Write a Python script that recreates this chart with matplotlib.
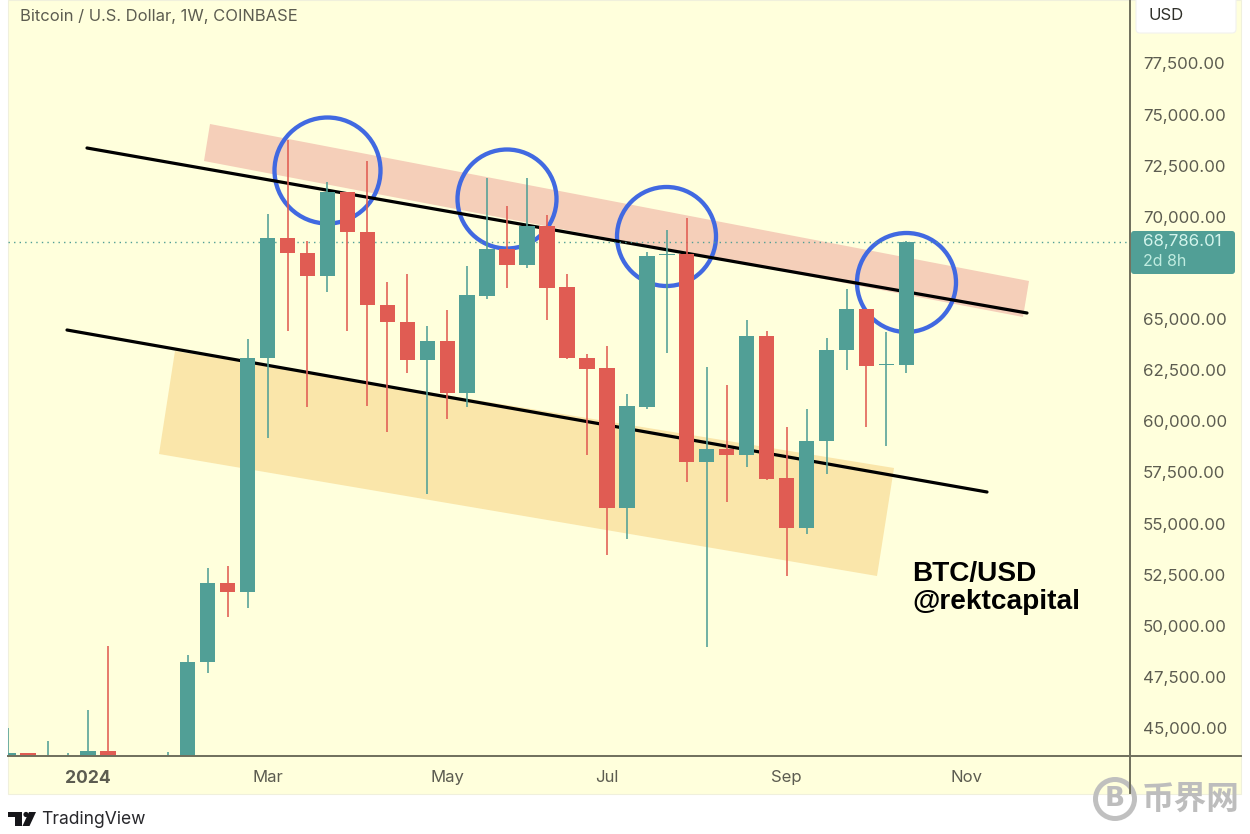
import matplotlib
matplotlib.use("Agg")
import matplotlib.pyplot as plt
from matplotlib.patches import Polygon, Circle, FancyBboxPatch, Rectangle

# ---------- data ----------
weeks = list(range(-4, 42))
opens = [43000, 43760, 42000, 42500, 42000, 43875, 41000, 41500, 42000, 42000,
         48227, 52105, 51636, 63075, 68944, 68240, 67120, 71200, 69250, 65680,
         64850, 63010, 63925, 61370, 66140, 68425, 67625, 69560, 66550, 63100,
         62590, 55770, 60710, 68130, 68180, 58020, 58630, 58335, 64170, 57210,
         54795, 59035, 63470, 65500, 62770, 62750]
closes = [43760, 43000, 43000, 43200, 43875, 42000, 42000, 42500, 43000, 48242,
          52105, 51636, 63075, 68944, 68240, 67120, 71200, 69250, 65680, 64850,
          63010, 63925, 61370, 66170, 68425, 67625, 69550, 66540, 63090, 62570,
          55770, 60750, 68080, 68180, 58020, 58630, 58335, 64170, 57190, 54795,
          59035, 63470, 65500, 62720, 62810, 68786]
highs = [45000, 43800, 44364, 43792, 45880, 49024, 41500, 42800, 43826, 48570,
         52824, 52920, 64022, 70120, 73750, 68830, 71710, 71200, 72730, 66820,
         67200, 64660, 65440, 67605, 71915, 70530, 71880, 70090, 67200, 63270,
         63700, 61330, 68290, 69350, 69930, 62670, 61770, 64950, 64425, 59730,
         60580, 64060, 66450, 65500, 64350, 68815]
lows = [42800, 42900, 41800, 42000, 41500, 41500, 40500, 41000, 41500, 41500,
        47690, 50444, 50868, 59166, 64425, 60710, 66335, 64425, 60740, 59490,
        62345, 56440, 60095, 60680, 65980, 66540, 67510, 64950, 63040, 58330,
        53460, 54230, 60610, 63350, 57040, 48975, 56070, 57750, 57130, 52450,
        54510, 57420, 62500, 59730, 58790, 62370]
price_ticks = [45000, 47500, 50000, 52500, 55000, 57500, 60000, 62500,
               65000, 67500, 70000, 72500, 75000, 77500]
# The 67,500 label is hidden in the reference's layout
price_labels = ["45,000.00", "47,500.00", "50,000.00", "52,500.00", "55,000.00",
                "57,500.00", "60,000.00", "62,500.00", "65,000.00", "", "70,000.00",
                "72,500.00", "75,000.00", "77,500.00"]
month_ticks = [0, 9, 18, 26, 35, 44]
month_labels = ["2024", "Mar", "May", "Jul", "Sep", "Nov"]
last_price = 68786.01

TEAL, RED = "#519f96", "#e05c53"
BG, AXC, TXT = "#ffffdc", "#6f6f5c", "#5c5c50"
W, H = 1250, 834
FONT = "Inter"

fig = plt.figure(figsize=(W / 100, H / 100), dpi=100, facecolor="white")

# ---------- background + drawn annotations (pixel space) ----------
bg = fig.add_axes([0, 0, 1, 1], zorder=0)
bg.set_xlim(0, W); bg.set_ylim(H, 0); bg.axis("off")
bg.add_patch(Rectangle((8, 0), 1233, 794, fc=BG, ec="#f0f0dc", lw=0.8))
bg.add_patch(Polygon([(210, 124), (1029, 281), (1023, 317), (204, 161)], fc="#f5cfb9", ec="none"))
bg.add_patch(Polygon([(175, 351), (894, 468), (877, 576), (159, 454)], fc="#fae6aa", ec="none"))
bg.plot([87, 1027], [148, 313], color="black", lw=2.3, solid_capstyle="round")
bg.plot([67, 987], [330, 492], color="black", lw=2.3, solid_capstyle="round")
for cx, cy, r in [(327.5, 170.5, 53), (507, 199, 49.5), (666.5, 236.5, 49.5), (906.5, 282.5, 49.5)]:
    bg.add_patch(Circle((cx, cy), r, fc="none", ec="#4169e1", lw=3.1))

# ---------- chart ----------
ax = fig.add_axes([8 / W, 1 - 756 / H, 1122 / W, 756 / H], zorder=1)
ax.patch.set_alpha(0)
ax.set_xlim(-4.0, 52.2)
ax.set_ylim(43631, 80599)
for s in ax.spines.values():
    s.set_visible(False)
colors = [TEAL if c >= o else RED for o, c in zip(opens, closes)]
ax.axhline(last_price, color=TEAL, lw=1.0, ls=(0, (1, 3)), zorder=1)
ax.vlines(weeks, lows, highs, colors=colors, lw=1.15, zorder=2)
ax.bar(weeks, [abs(c - o) for o, c in zip(opens, closes)],
       bottom=[min(o, c) for o, c in zip(opens, closes)],
       width=0.77, color=colors, linewidth=0, zorder=3)

ax.yaxis.tick_right()
ax.set_yticks(price_ticks, price_labels)
ax.set_xticks(month_ticks, month_labels)
ax.tick_params(axis="y", length=0, pad=9.2, labelsize=12.2, labelcolor=TXT)
ax.tick_params(axis="x", length=0, pad=10, labelsize=12, labelcolor=TXT)
for t in ax.get_xticklabels() + ax.get_yticklabels():
    t.set_fontfamily(FONT)
ax.get_xticklabels()[0].set_fontweight("bold")
ax.get_xticklabels()[0].set_fontsize(12.6)

# ---------- top overlay ----------
ov = fig.add_axes([0, 0, 1, 1], zorder=2)
ov.set_xlim(0, W); ov.set_ylim(H, 0); ov.axis("off"); ov.patch.set_alpha(0)
ov.plot([8, 1241], [756, 756], color=AXC, lw=1.4)
ov.plot([1130, 1130], [0, 793], color=AXC, lw=1.4)
ov.add_patch(FancyBboxPatch((1136, -6), 100, 39, boxstyle="round,pad=0,rounding_size=4",
                            fc="white", ec="#f2f2ee", lw=0.8))
ov.text(1148, 15.5, "USD", fontsize=12, color="#30302a", family=FONT, va="center")
ov.add_patch(FancyBboxPatch((1131, 231), 104, 43, boxstyle="round,pad=0,rounding_size=3",
                            fc=TEAL, ec="none"))
ov.text(1143, 241, "68,786.01", fontsize=12.2, color="#d4f5ec", family=FONT, va="center")
ov.text(1143, 261, "2d 8h", fontsize=11.5, color="#c0ece0", family=FONT, va="center")
ov.text(20, 16, "Bitcoin / U.S. Dollar, 1W, COINBASE", fontsize=11.95, color=TXT,
        family=FONT, va="center")
ov.text(912, 574, "BTC/USD", fontsize=20.2, fontweight="bold", color="black",
        family="Liberation Sans", va="center")
ov.text(912, 602, "@rektcapital", fontsize=20.2, fontweight="bold", color="black",
        family="Liberation Sans", va="center")

# TradingView logo and wordmark
ov.add_patch(Polygon([(8, 812), (21.5, 812), (21.5, 826), (15, 826), (15, 817), (8, 817)], fc="#16161a", ec="none"))
ov.add_patch(Circle((26, 814.5), 2.6, fc="#16161a", ec="none"))
ov.add_patch(Polygon([(29, 812), (36, 812), (29.5, 826), (22.5, 826)], fc="#16161a", ec="none"))
ov.text(41, 819.5, "TradingView", fontsize=12.6, color="#28282c", family=FONT, va="center")

# Watermark
GREY = "#bdbdbd"
ov.add_patch(Circle((1115, 799), 19.5, fc="none", ec=GREY, lw=3.6, alpha=0.95))
ov.text(1115, 799, "B", fontsize=19, fontweight="bold", color=GREY, family="DejaVu Sans",
        ha="center", va="center")
ov.text(1190.5, 799, "币界网", fontsize=23.5, fontweight="black", color=GREY,
        family="Noto Sans CJK SC", ha="center", va="center")

fig.savefig("out.png", dpi=100, facecolor="white")
